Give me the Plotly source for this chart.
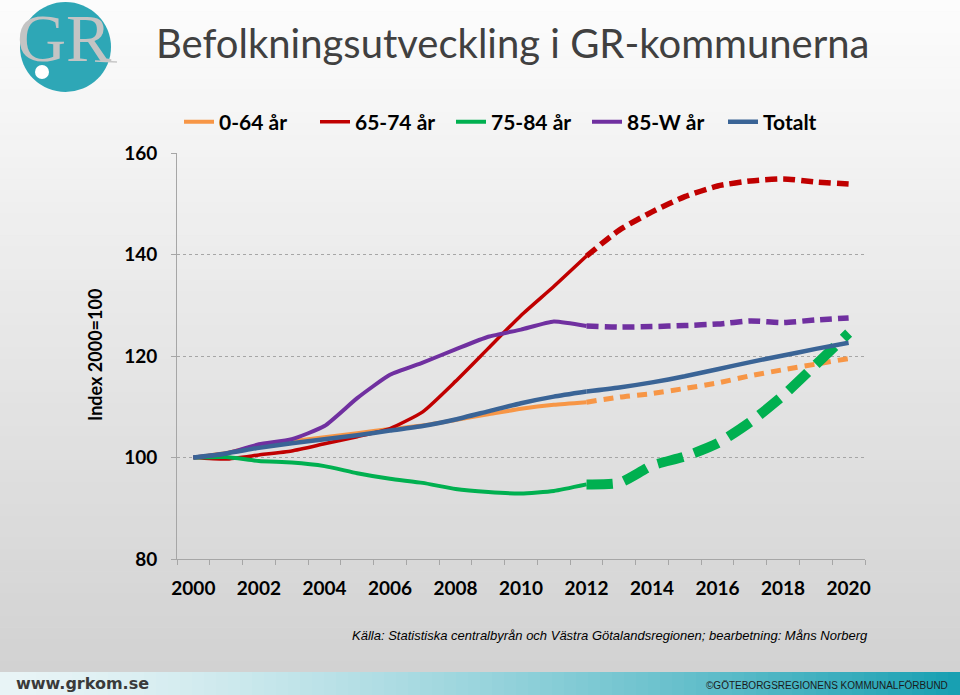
import plotly.graph_objects as go

# ---------------- data ----------------
years = list(range(2000, 2021))
split_year = 2012  # observed up to 2012, projection after

age_0_64 = [100, 100.9, 102.3, 103.2, 104.0, 104.8, 105.6, 106.3, 107.4, 108.5, 109.6,
            110.4, 110.9, 111.9, 112.6, 113.6, 114.7, 116.1, 117.3, 118.4, 119.5]
age_65_74 = [100, 99.7, 100.5, 101.3, 102.7, 104.1, 105.7, 109.0, 115.0, 121.5, 128.0,
             133.7, 139.7, 144.8, 148.4, 151.4, 153.5, 154.5, 154.9, 154.3, 153.9]
age_75_84 = [100, 100.1, 99.3, 99.0, 98.3, 96.9, 95.8, 95.0, 93.8, 93.2, 92.9,
             93.4, 94.7, 95.0, 98.4, 100.2, 102.8, 107.0, 112.2, 118.3, 124.5]
age_85_w = [100, 100.8, 102.6, 103.6, 106.2, 111.7, 116.3, 118.7, 121.3, 123.8, 125.2,
            126.8, 125.9, 125.7, 125.8, 126.0, 126.3, 126.9, 126.6, 127.1, 127.5]
totalt = [100, 100.8, 101.9, 102.8, 103.6, 104.4, 105.3, 106.2, 107.5, 109.1, 110.7,
          112.0, 113.0, 113.8, 114.8, 116.0, 117.4, 118.8, 120.1, 121.4, 122.6]

series_names = ["0-64 år", "65-74 år", "75-84 år", "85-W år", "Totalt"]
series_values = [age_0_64, age_65_74, age_75_84, age_85_w, totalt]
x_tick_labels = [str(y) for y in range(2000, 2021, 2)]
y_tick_values = [80, 100, 120, 140, 160]

title_text = "Befolkningsutveckling i GR-kommunerna"
y_title = "Index 2000=100"
source_text = "Källa: Statistiska centralbyrån och Västra Götalandsregionen; bearbetning: Måns Norberg"

# ---------------- styles ----------------
colors = ["#F79646", "#C00000", "#00B050", "#7030A0", "#3A6496"]
solid_w = [4, 3.5, 4, 4, 4.5]
dash_w = [5, 5.5, 10, 5.5, 4.5]
dash_pat = ["10px,7px", "12px,6px", "26px,12px", "12px,6px", "solid"]

W, H = 960, 695
L, R, T, B = 177, 95, 153, 136
pw, ph = W - L - R, H - T - B


def px_x(px):
    return (px - L) / pw


def px_y(py):
    return (H - B - py) / ph


fig = go.Figure()
idx = years.index(split_year)
for name, vals, c, sw, dw, dp in zip(series_names, series_values, colors, solid_w, dash_w, dash_pat):
    fig.add_trace(go.Scatter(
        x=years[:idx + 1], y=vals[:idx + 1], mode="lines", name=name,
        legendgroup=name, line=dict(color=c, width=sw, shape="spline", smoothing=0.5),
    ))
    fig.add_trace(go.Scatter(
        x=years[idx:], y=vals[idx:], mode="lines", name=name, showlegend=False,
        legendgroup=name, line=dict(color=c, width=dw, dash=dp, shape="spline", smoothing=0.6),
    ))

shapes = []
# slide background gradient
n = 60
top_c, bot_c = (252, 252, 252), (210, 210, 210)
for i in range(n):
    y0 = 672 * i / n
    y1 = 672 * (i + 1) / n + 0.5
    t = i / (n - 1)
    col = tuple(int(round(a + (b - a) * t)) for a, b in zip(top_c, bot_c))
    shapes.append(dict(type="rect", xref="paper", yref="paper", layer="below",
                       x0=px_x(0), x1=px_x(W), y0=px_y(y1), y1=px_y(y0),
                       line=dict(width=0), fillcolor="rgb(%d,%d,%d)" % col))
# footer gradient band
m = 80
left_c, right_c = (232, 244, 246), (24, 160, 178)
for i in range(m):
    x0 = W * i / m
    x1 = W * (i + 1) / m + 0.5
    t = (i / (m - 1)) ** 1.4
    col = tuple(int(round(a + (b - a) * t)) for a, b in zip(left_c, right_c))
    shapes.append(dict(type="rect", xref="paper", yref="paper", layer="below",
                       x0=px_x(x0), x1=px_x(x1), y0=px_y(H), y1=px_y(672),
                       line=dict(width=0), fillcolor="rgb(%d,%d,%d)" % col))
# logo
shapes.append(dict(type="circle", xref="paper", yref="paper", layer="above",
                   x0=px_x(20), x1=px_x(111), y0=px_y(92), y1=px_y(2),
                   line=dict(width=0), fillcolor="#2EA7B6"))
shapes.append(dict(type="circle", xref="paper", yref="paper", layer="above",
                   x0=px_x(35), x1=px_x(49), y0=px_y(79), y1=px_y(65),
                   line=dict(width=0), fillcolor="#FFFFFF"))
shapes.append(dict(type="line", xref="paper", yref="paper", layer="above",
                   x0=px_x(95), x1=px_x(117), y0=px_y(61), y1=px_y(62),
                   line=dict(width=1.5, color="#C8C8C8")))

annotations = [
    dict(text="GR", x=px_x(64), y=px_y(38), xref="paper", yref="paper", showarrow=False,
         font=dict(family="Liberation Serif, DejaVu Serif, serif", size=68, color="#C4C4C4"),
         xanchor="center", yanchor="middle"),
    dict(text=title_text, x=px_x(154), y=px_y(43), xref="paper", yref="paper", showarrow=False,
         font=dict(family="Lato, Noto Sans, sans-serif", size=40, color="#404040"),
         xanchor="left", yanchor="middle"),
    dict(text="<b>" + y_title + "</b>", x=px_x(95), y=px_y(355), xref="paper", yref="paper",
         showarrow=False, textangle=-90,
         font=dict(family="Lato, sans-serif", size=18, color="#000000"),
         xanchor="center", yanchor="middle"),
    dict(text="<i>" + source_text + "</i>", x=px_x(870), y=px_y(635), xref="paper", yref="paper",
         showarrow=False,
         font=dict(family="Liberation Sans Narrow, Liberation Sans, Arial, sans-serif", size=13, color="#000000"),
         xanchor="right", yanchor="middle"),
    dict(text="<b>www.grkom.se</b>", x=px_x(14), y=px_y(683), xref="paper", yref="paper",
         showarrow=False, font=dict(family="DejaVu Sans, sans-serif", size=16, color="#3A3A3A"),
         xanchor="left", yanchor="middle"),
    dict(text="©GÖTEBORGSREGIONENS KOMMUNALFÖRBUND", x=px_x(950), y=px_y(685), xref="paper", yref="paper",
         showarrow=False,
         font=dict(family="Liberation Sans Narrow, Liberation Sans, sans-serif", size=10, color="#1A1A1A"),
         xanchor="right", yanchor="middle"),
]

fig.update_layout(
    width=W, height=H,
    margin=dict(l=L, r=R, t=T, b=B),
    paper_bgcolor="#E6E6E6", plot_bgcolor="rgba(0,0,0,0)",
    shapes=shapes, annotations=annotations,
    showlegend=True,
    legend=dict(orientation="h", x=px_x(172), y=px_y(122), xanchor="left", yanchor="middle",
                bgcolor="rgba(0,0,0,0)", entrywidth=84, entrywidthmode="pixels",
                indentation=7,
                font=dict(family="Lato, sans-serif", size=21, color="#000000", weight="bold"),
                itemwidth=30, traceorder="normal"),
    font=dict(family="Lato, sans-serif"),
)
fig.update_xaxes(
    range=[1999.5, 2020.5], tickmode="array",
    tickvals=[int(t) for t in x_tick_labels], ticktext=["<b>%s</b>" % t for t in x_tick_labels],
    ticks="outside", ticklen=12, tickcolor="rgba(0,0,0,0)",
    tickfont=dict(family="Lato, sans-serif", size=19, color="#000000"),
    showgrid=False, showline=True, linecolor="#A6A6A6", linewidth=1, zeroline=False,
    minor=dict(tick0=1999.5, dtick=1, ticks="outside", ticklen=5, tickcolor="#A6A6A6", showgrid=False),
)
fig.update_yaxes(
    range=[80, 160], tickmode="array", tickvals=y_tick_values,
    ticktext=["<b>%d</b>" % v for v in y_tick_values],
    ticks="outside", ticklen=5, tickcolor="#A6A6A6",
    tickfont=dict(family="Lato, sans-serif", size=19, color="#000000"),
    ticklabelstandoff=10,
    showgrid=True, gridcolor="#A6A6A6", griddash="dot", gridwidth=1,
    showline=True, linecolor="#A6A6A6", linewidth=1, zeroline=False,
)

fig.write_html("out.html", config={"displayModeBar": False},
               post_script="document.body.style.margin='0';document.body.style.overflow='hidden';")
